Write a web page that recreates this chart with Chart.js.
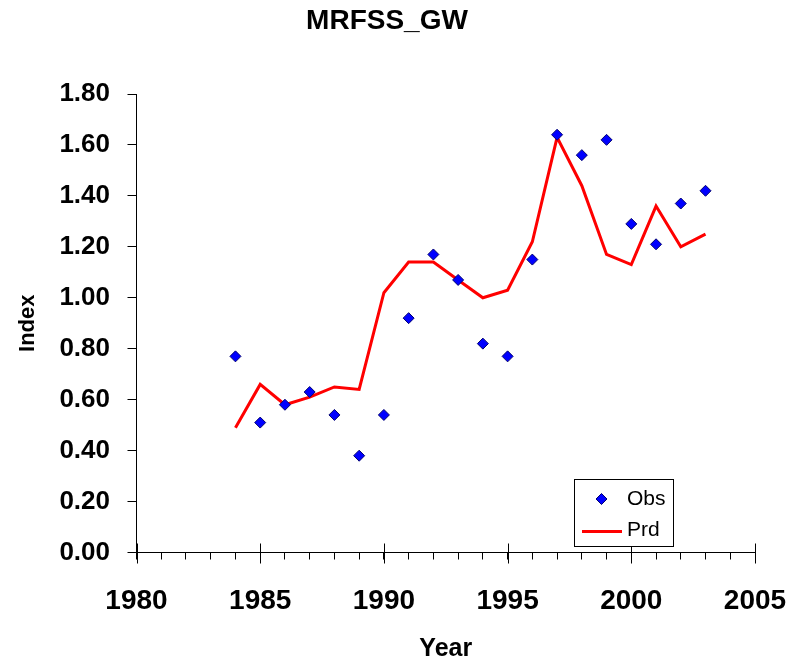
<!DOCTYPE html>
<html>
<head>
<meta charset="utf-8">
<script src="https://cdn.jsdelivr.net/npm/chart.js@4/dist/chart.umd.min.js"></script>
<style>
  html, body { margin: 0; padding: 0; background: #fff; }
  #wrap { width: 793px; height: 667px; }
</style>
</head>
<body>
<div id="wrap"><canvas id="c" width="793" height="667"></canvas></div>
<script>
// Survey index for MRFSS_GW: observed vs predicted
const chartTitle = 'MRFSS_GW';
const years = [1984, 1985, 1986, 1987, 1988, 1989, 1990, 1991, 1992, 1993,
               1994, 1995, 1996, 1997, 1998, 1999, 2000, 2001, 2002, 2003];
const obsIndex = [0.77, 0.51, 0.58, 0.63, 0.54, 0.38, 0.54, 0.92, 1.17, 1.07,
                  0.82, 0.77, 1.15, 1.64, 1.56, 1.62, 1.29, 1.21, 1.37, 1.42];
const prdIndex = [0.49, 0.66, 0.58, 0.61, 0.65, 0.64, 1.02, 1.14, 1.14, 1.07,
                  1.00, 1.03, 1.22, 1.63, 1.44, 1.17, 1.13, 1.36, 1.20, 1.25];
const xTickLabels = [1980, 1985, 1990, 1995, 2000, 2005];
const yTickValues = [0.0, 0.2, 0.4, 0.6, 0.8, 1.0, 1.2, 1.4, 1.6, 1.8];

const fontFam = "'Liberation Sans', Arial, Helvetica, sans-serif";

const toPoints = vals => years.map((yr, i) => ({ x: yr, y: vals[i] }));

// Title, major x ticks crossing the axis, and the boxed legend
const decor = {
  id: 'decor',
  afterDraw(chart) {
    const { ctx, chartArea: a, scales: { x } } = chart;
    ctx.save();

    ctx.strokeStyle = '#000';
    ctx.lineWidth = 1;
    xTickLabels.forEach(v => {
      const px = Math.round(x.getPixelForValue(v)) + 0.5;
      ctx.beginPath();
      ctx.moveTo(px, a.bottom - 9);
      ctx.lineTo(px, a.bottom + 11);
      ctx.stroke();
    });

    ctx.fillStyle = '#000';
    ctx.font = `bold 28px ${fontFam}`;
    ctx.textAlign = 'center';
    ctx.textBaseline = 'middle';
    ctx.fillText(chartTitle, 387, 21);

    // legend
    const [obsDs, prdDs] = chart.data.datasets;
    ctx.fillStyle = '#fff';
    ctx.fillRect(574.5, 479.5, 99, 67);
    ctx.strokeStyle = '#000';
    ctx.lineWidth = 1;
    ctx.strokeRect(574.5, 479.5, 99, 67);

    const cx = 601.5, cy = 499, r = 5.5;
    ctx.beginPath();
    ctx.moveTo(cx - r, cy);
    ctx.lineTo(cx, cy - r);
    ctx.lineTo(cx + r, cy);
    ctx.lineTo(cx, cy + r);
    ctx.closePath();
    ctx.fillStyle = obsDs.backgroundColor;
    ctx.fill();
    ctx.strokeStyle = obsDs.borderColor;
    ctx.stroke();

    ctx.beginPath();
    ctx.moveTo(582, 531.5);
    ctx.lineTo(622, 531.5);
    ctx.strokeStyle = prdDs.borderColor;
    ctx.lineWidth = prdDs.borderWidth;
    ctx.stroke();

    ctx.fillStyle = '#000';
    ctx.font = `21px ${fontFam}`;
    ctx.textAlign = 'left';
    ctx.textBaseline = 'middle';
    ctx.fillText(obsDs.label, 627, 499);
    ctx.fillText(prdDs.label, 627, 530);

    ctx.restore();
  }
};

new Chart(document.getElementById('c'), {
  type: 'scatter',
  data: {
    datasets: [
      {
        label: 'Obs',
        data: toPoints(obsIndex),
        showLine: false,
        pointStyle: 'rectRot',
        pointRadius: 5.5,
        pointHoverRadius: 5.5,
        backgroundColor: '#0000ff',
        borderColor: '#000070',
        borderWidth: 1
      },
      {
        label: 'Prd',
        data: toPoints(prdIndex),
        showLine: true,
        tension: 0,
        pointRadius: 0,
        pointHoverRadius: 0,
        borderColor: '#ff0000',
        backgroundColor: '#ff0000',
        borderWidth: 3
      }
    ]
  },
  options: {
    responsive: false,
    animation: false,
    devicePixelRatio: 1,
    layout: { padding: { top: 94, right: 38, bottom: 0, left: 0 } },
    plugins: {
      legend: { display: false },
      title: { display: false },
      tooltip: { enabled: false }
    },
    scales: {
      x: {
        type: 'linear',
        min: 1980,
        max: 2005,
        afterFit(s) { s.height = 114.5; s.paddingLeft = 0; s.paddingRight = 0; },
        ticks: {
          stepSize: 1,
          autoSkip: false,
          maxRotation: 0,
          minRotation: 0,
          padding: 24.5,
          color: '#000',
          font: { family: fontFam, size: 28, weight: 'bold' },
          callback: v => (xTickLabels.includes(v) ? String(v) : '')
        },
        grid: {
          drawOnChartArea: false,
          drawTicks: true,
          tickLength: 7,
          color: '#000',
          lineWidth: 1
        },
        border: { display: true, color: '#000', width: 1 },
        title: {
          display: true,
          text: 'Year',
          color: '#000',
          font: { family: fontFam, size: 25, weight: 'bold' },
          padding: { top: 0, bottom: 2.5 }
        }
      },
      y: {
        type: 'linear',
        min: 0,
        max: 1.8,
        afterFit(s) { s.width = 136.5; s.paddingTop = 0; s.paddingBottom = 0; },
        afterBuildTicks(s) { s.ticks = yTickValues.map(v => ({ value: v })); },
        ticks: {
          padding: 17.5,
          color: '#000',
          font: { family: fontFam, size: 26, weight: 'bold' },
          callback: v => Number(v).toFixed(2)
        },
        grid: {
          drawOnChartArea: false,
          drawTicks: true,
          tickLength: 9,
          color: '#000',
          lineWidth: 1
        },
        border: { display: true, color: '#000', width: 1 },
        title: {
          display: true,
          text: 'Index',
          color: '#000',
          font: { family: fontFam, size: 22, weight: 'bold' },
          padding: { top: 15, bottom: 0 }
        }
      }
    }
  },
  plugins: [decor]
});
</script>
</body>
</html>
